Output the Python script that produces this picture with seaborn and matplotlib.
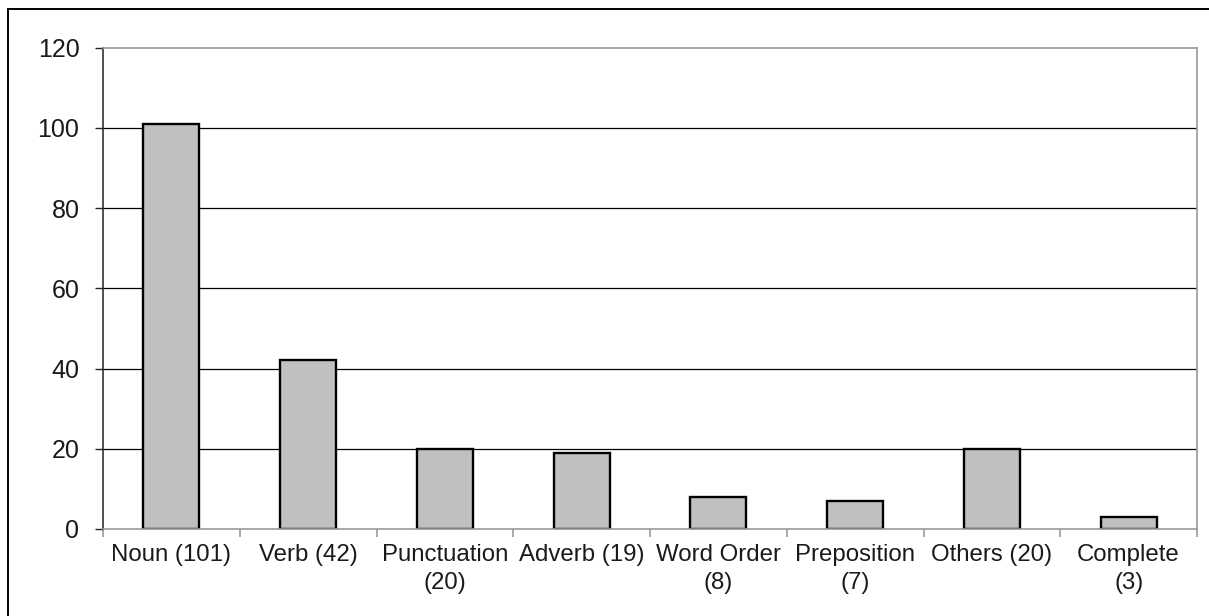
import matplotlib
matplotlib.use("Agg")
import matplotlib.pyplot as plt
from matplotlib.lines import Line2D
import seaborn as sns
import pandas as pd

categories = ["Noun (101)", "Verb (42)", "Punctuation\n(20)", "Adverb (19)",
              "Word Order\n(8)", "Preposition\n(7)", "Others (20)", "Complete\n(3)"]
counts = [101, 42, 20, 19, 8, 7, 20, 3]
y_ticks = [0, 20, 40, 60, 80, 100, 120]

sns.set_theme(style="white")
plt.rcParams["font.family"] = ["Liberation Sans", "DejaVu Sans"]

df = pd.DataFrame({"category": categories, "count": counts})

fig = plt.figure(figsize=(12.09, 6.16), dpi=100)
ax = fig.add_axes([103 / 1209, 1 - 529 / 616, (1197 - 103) / 1209, (529 - 47.5) / 616])

sns.barplot(data=df, x="category", y="count", ax=ax, width=0.41,
            color="#c0c0c0", edgecolor="black", linewidth=1.7, saturation=1)

ax.set_xlim(-0.5, len(categories) - 0.5)
ax.set_ylim(0, 120)
ax.set_yticks(y_ticks)
ax.set_xlabel("")
ax.set_ylabel("")

# horizontal gridlines
for v in y_ticks[1:-1]:
    ax.axhline(v, color="black", linewidth=0.9, zorder=0)

for side in ["top", "right", "bottom"]:
    ax.spines[side].set_color("#999999")
    ax.spines[side].set_linewidth(1.2)
ax.spines["left"].set_color("#222222")
ax.spines["left"].set_linewidth(1.1)

ax.tick_params(axis="y", which="major", left=True, length=6, width=1, color="#222222",
               labelsize=18, pad=11, labelcolor="#1a1a1a")
ax.tick_params(axis="x", which="major", bottom=False, length=0, labelsize=17.3,
               pad=11, labelcolor="#1a1a1a")
ax.set_xticks([i - 0.5 for i in range(len(categories) + 1)], minor=True)
ax.tick_params(axis="x", which="minor", bottom=True, length=6, width=1.2, color="#999999")

for lbl in ax.get_xticklabels():
    lbl.set_horizontalalignment("center")
    lbl.set_linespacing(1.35)

# frame lines around the chart area
fig.add_artist(Line2D([7.5 / 1209, 1.0], [1 - 9 / 616, 1 - 9 / 616],
                      transform=fig.transFigure, color="black", linewidth=1.4))
fig.add_artist(Line2D([7.5 / 1209, 7.5 / 1209], [0.0, 1 - 9 / 616],
                      transform=fig.transFigure, color="black", linewidth=1.4))

fig.savefig("out.png", dpi=100, facecolor="white")
